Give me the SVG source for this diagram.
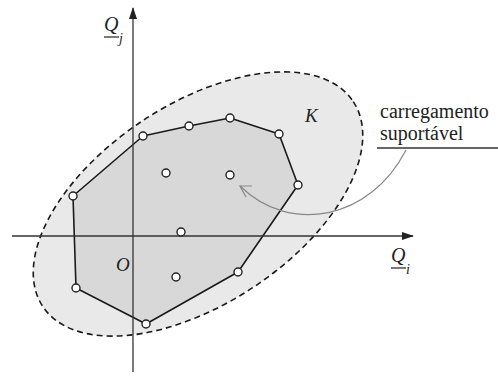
<svg xmlns="http://www.w3.org/2000/svg" width="498" height="376" viewBox="0 0 498 376">
<style>
text{font-family:'Liberation Serif','DejaVu Serif',serif;fill:#222}
.lbl{font-style:italic}
.txt{font-size:20px}
.pt{fill:#fff;stroke:#222;stroke-width:1.4}
.axis{stroke:#333;stroke-width:1.3;fill:none}
</style>
<defs>
<marker id="ah" markerWidth="12" markerHeight="8" refX="11" refY="4" orient="auto" markerUnits="userSpaceOnUse">
<path d="M0,0 L12,4 L0,8 Z" fill="#222"/>
</marker>
</defs>
<rect width="498" height="376" fill="#fff"/>
<g id="region-K">
<ellipse cx="198" cy="204" rx="186" ry="100" transform="rotate(-33.4 198 204)" fill="#e9e9e9" stroke="#1a1a1a" stroke-width="1.6" stroke-dasharray="6 4"/>
</g>
<g id="polygon">
<polygon points="143,136 189,126 230,118 279,134 298,185 238,272 146,324 76,288 73,196" fill="#d8d8d8" stroke="#1a1a1a" stroke-width="1.6" stroke-linejoin="round"/>
</g>
<g id="connectors">
<line class="axis" x1="133" y1="372" x2="133" y2="8" marker-end="url(#ah)"/>
<line class="axis" x1="12" y1="236" x2="413" y2="236" marker-end="url(#ah)"/>
<path d="M406,150 C370,220 290,235 240,186" fill="none" stroke="#888" stroke-width="1.2"/>
<path d="M252,186 L240,186 L246,197" fill="none" stroke="#888" stroke-width="1.2"/>
<line x1="377" y1="148" x2="498" y2="148" stroke="#333" stroke-width="1.3"/>
</g>
<g id="points">
<circle class="pt" cx="143" cy="136" r="4"/>
<circle class="pt" cx="189" cy="126" r="4"/>
<circle class="pt" cx="230" cy="118" r="4"/>
<circle class="pt" cx="279" cy="134" r="4"/>
<circle class="pt" cx="298" cy="185" r="4"/>
<circle class="pt" cx="238" cy="272" r="4"/>
<circle class="pt" cx="146" cy="324" r="4"/>
<circle class="pt" cx="76" cy="288" r="4"/>
<circle class="pt" cx="73" cy="196" r="4"/>
<circle class="pt" cx="166" cy="173" r="4"/>
<circle class="pt" cx="230" cy="175" r="4"/>
<circle class="pt" cx="181" cy="232" r="4"/>
<circle class="pt" cx="176" cy="277" r="4"/>
</g>
<g id="label-Qj">
<text class="lbl" x="104" y="31" font-size="20">Q</text>
<line x1="104" y1="37" x2="119" y2="37" stroke="#222" stroke-width="1.2"/>
<text class="lbl" x="119" y="43" font-size="14">j</text>
</g>
<g id="label-Qi">
<text class="lbl" x="391" y="262" font-size="20">Q</text>
<line x1="391" y1="268" x2="406" y2="268" stroke="#222" stroke-width="1.2"/>
<text class="lbl" x="406" y="274" font-size="14">i</text>
</g>
<g id="label-K"><text class="lbl" x="305" y="122" font-size="19">K</text></g>
<g id="label-O"><text class="lbl" x="116" y="271" font-size="19">O</text></g>
<g id="label-carregamento">
<text class="txt" x="380" y="118">carregamento</text>
<text class="txt" x="380" y="140">suportável</text>
</g>
</svg>
